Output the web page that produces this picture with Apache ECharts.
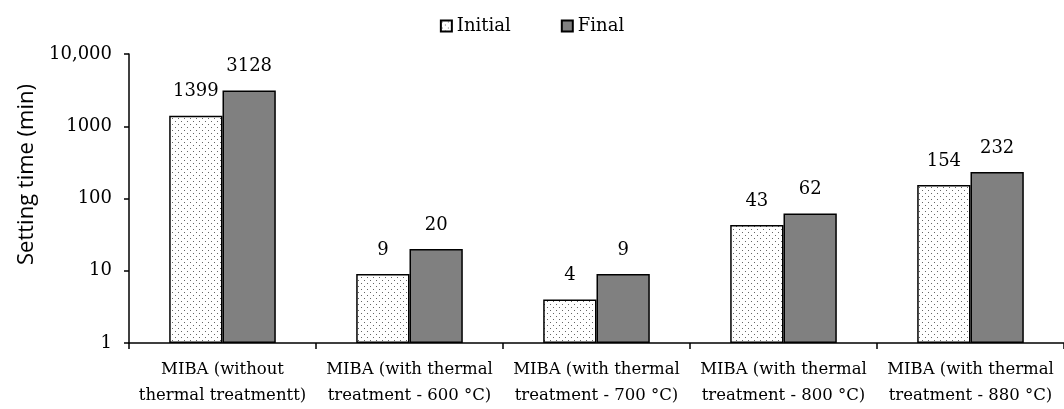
<!DOCTYPE html>
<html><head><meta charset="utf-8">
<script src="https://cdn.jsdelivr.net/npm/echarts@6/dist/echarts.min.js"></script>
<style>html,body{margin:0;padding:0;background:#fff}#c{width:1064px;height:409px}</style>
</head><body><div id="c"></div>
<script>
const categories = [
  "MIBA (without\nthermal treatmentt)",
  "MIBA (with thermal\ntreatment - 600 °C)",
  "MIBA (with thermal\ntreatment - 700 °C)",
  "MIBA (with thermal\ntreatment - 800 °C)",
  "MIBA (with thermal\ntreatment - 880 °C)"
];
const initialValues = [1399, 9, 4, 43, 154];
const finalValues = [3128, 20, 9, 62, 232];
const seriesNames = ["Initial", "Final"];
const yTickLabels = {1: "1", 10: "10", 100: "100", 1000: "1000", 10000: "10,000"};

function dotPattern() {
  const c = document.createElement('canvas');
  c.width = 6; c.height = 6;
  const ctx = c.getContext('2d');
  ctx.fillStyle = '#ffffff';
  ctx.fillRect(0, 0, 6, 6);
  ctx.fillStyle = '#666666';
  ctx.fillRect(1, 1, 1, 1);
  ctx.fillRect(4, 4, 1, 1);
  return c;
}
const serif = 'DejaVu Serif';
const chart = echarts.init(document.getElementById('c'));
const labelStyle = {show: true, position: 'top', distance: 15, color: '#000', fontFamily: serif, fontSize: 18};
chart.setOption({
  animation: false,
  legend: {
    top: 12, left: 'center', itemGap: 50, itemWidth: 11, itemHeight: 11,
    icon: 'rect',
    textStyle: {fontFamily: serif, fontSize: 18, color: '#000'},
    data: seriesNames
  },
  grid: {left: 129, right: -3, top: 54, bottom: 65, containLabel: false},
  xAxis: {
    type: 'category', data: categories,
    axisLine: {lineStyle: {color: '#000', width: 1.5}},
    axisTick: {show: true, interval: 0, lineStyle: {color: '#000', width: 1.5}, length: 6},
    axisLabel: {interval: 0, hideOverlap: false, fontFamily: serif, fontSize: 16.5, color: '#000', lineHeight: 26, margin: 14}
  },
  yAxis: {
    type: 'log', logBase: 10, min: 1, max: 10000,
    name: 'Setting time (min)', nameLocation: 'middle', nameGap: 88,
    nameTextStyle: {fontFamily: 'Open Sans', fontSize: 22, color: '#000', padding: [0, 0, 0, 48]},
    axisLine: {show: true, lineStyle: {color: '#000', width: 1.5}},
    axisTick: {show: true, lineStyle: {color: '#000', width: 1.5}, length: 5},
    splitLine: {show: false},
    axisLabel: {fontFamily: serif, fontSize: 18, color: '#000', margin: 17,
      formatter: v => yTickLabels[v] || String(v)}
  },
  series: [
    {name: seriesNames[0], type: 'bar', data: initialValues, barGap: '0%', barCategoryGap: '43%',
     itemStyle: {color: {image: dotPattern(), repeat: 'repeat'}, borderColor: '#000', borderWidth: 1.5},
     label: labelStyle},
    {name: seriesNames[1], type: 'bar', data: finalValues, barGap: '0%', barCategoryGap: '43%',
     itemStyle: {color: '#808080', borderColor: '#000', borderWidth: 1.5},
     label: labelStyle}
  ]
});
</script></body></html>
